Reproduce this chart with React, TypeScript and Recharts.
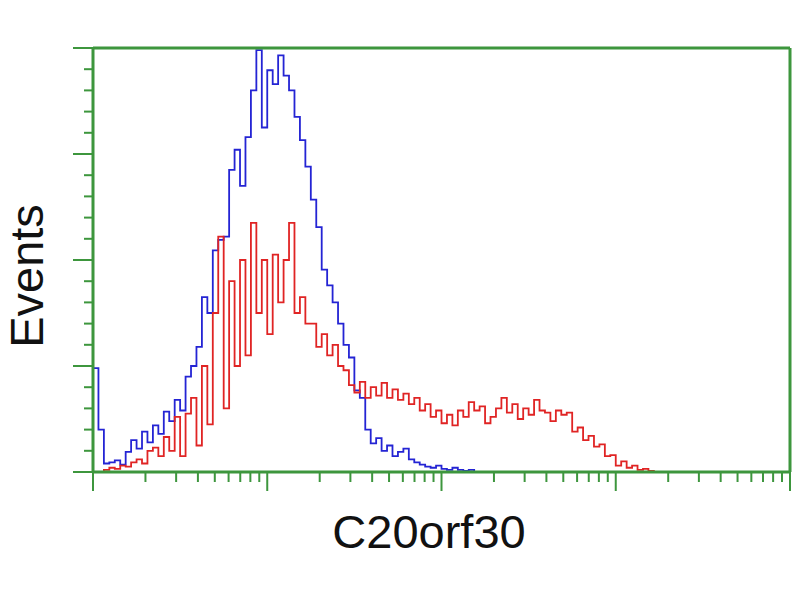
import React from 'react';
import { LineChart, Line, XAxis, YAxis, Label } from 'recharts';

// histogram bins (channel, 256 channels over 4 decades)
const channels = [
  0, 2, 4, 6, 8, 10, 12, 14, 16, 18, 20, 22, 24, 26, 28, 30, 32, 34, 36, 38,
  40, 42, 44, 46, 48, 50, 52, 54, 56, 58, 60, 62, 64, 66, 68, 70, 72, 74, 76, 78,
  80, 82, 84, 86, 88, 90, 92, 94, 96, 98, 100, 102, 104, 106, 108, 110, 112, 114, 116, 118,
  120, 122, 124, 126, 128, 130, 132, 134, 136, 138, 140, 142, 144, 146, 148, 150, 152, 154, 156, 158,
  160, 162, 164, 166, 168, 170, 172, 174, 176, 178, 180, 182, 184, 186, 188, 190, 192, 194, 196, 198,
  200, 202, 204, 206,
];

// isotype control
const controlEvents = [
  98, 40, 8, 9, 11, 7, 19, 30, 22, 38,
  28, 44, 36, 57, 48, 68, 58, 90, 100, 118,
  165, 150, 209, 219, 222, 285, 304, 270, 316, 360,
  398, 325, 379, 366, 393, 374, 360, 335, 313, 288,
  257, 231, 191, 176, 160, 140, 120, 108, 77, 70,
  40, 27, 32, 20, 25, 15, 19, 22, 12, 9,
  7, 5, 4, 6, 3, 2, 4, 2, 1, 2,
  0,
];

// C20orf30 stained
const stainedEvents = [
  0, 0, 2, 4, 3, 6, 5, 9, 12, 8,
  20, 23, 15, 33, 20, 52, 15, 55, 70, 25,
  100, 45, 150, 222, 60, 180, 100, 200, 110, 235,
  150, 200, 130, 205, 160, 200, 235, 150, 165, 140,
  140, 118, 130, 110, 120, 100, 96, 82, 75, 85,
  70, 80, 72, 84, 70, 78, 68, 74, 64, 70,
  58, 64, 52, 58, 46, 54, 44, 58, 52, 66,
  58, 62, 46, 52, 60, 70, 56, 64, 50, 60,
  54, 68, 58, 56, 48, 58, 54, 56, 38, 42,
  30, 34, 24, 26, 15, 16, 6, 10, 4, 6,
  2, 3, 1, 0,
];

const xMajorTicks = [0, 64, 128, 192, 256];
const yMajorTicks = [0, 100, 200, 300, 400];
const yMinorTicks = [20, 40, 60, 80, 120, 140, 160, 180, 220, 240, 260, 280, 320, 340, 360, 380];

const xMinorTicks: number[] = [];
for (let d = 0; d < 4; d++) {
  for (let k = 2; k <= 9; k++) xMinorTicks.push(d * 64 + 64 * Math.log10(k));
}

const data = channels.map((c, i) => ({
  channel: c,
  control: i < controlEvents.length ? controlEvents[i] : null,
  stained: stainedEvents[i],
}));

const GREEN = '#3d963d';

const XTick = (props: any) => {
  const { x, y, payload } = props;
  const major = xMajorTicks.includes(payload.value);
  return <line x1={x} x2={x} y1={y} y2={y + (major ? 19 : 10)} stroke={GREEN} strokeWidth={2} />;
};

const YTick = (props: any) => {
  const { x, y, payload } = props;
  const major = yMajorTicks.includes(payload.value);
  return <line x1={x - (major ? 20 : 9)} x2={x} y1={y} y2={y} stroke={GREEN} strokeWidth={2} />;
};

const font = '"Liberation Sans", Arial, sans-serif';

export default function App() {
  return (
    <div style={{ position: 'absolute', left: 0, top: 0, width: 800, height: 600, background: '#fff' }}>
      <LineChart width={800} height={600} data={data} margin={{ top: 0, right: 0, bottom: 0, left: 0 }}>
        <XAxis
          dataKey="channel"
          type="number"
          domain={[0, 256]}
          ticks={[...xMajorTicks, ...xMinorTicks]}
          interval={0}
          height={128}
          tickSize={0}
          tickMargin={0}
          tickLine={false}
          tick={<XTick />}
          axisLine={{ stroke: GREEN, strokeWidth: 3 }}
        >
          <Label
            content={() => (
              <text x={429} y={548} textAnchor="middle" fontFamily={font} fontSize={47} fill="#111">
                C20orf30
              </text>
            )}
          />
        </XAxis>
        <XAxis
          xAxisId="top"
          orientation="top"
          dataKey="channel"
          type="number"
          domain={[0, 256]}
          height={48}
          tick={false}
          tickLine={false}
          axisLine={{ stroke: GREEN, strokeWidth: 3 }}
        />
        <YAxis
          type="number"
          domain={[0, 400]}
          ticks={[...yMajorTicks, ...yMinorTicks]}
          interval={0}
          width={93}
          tickSize={0}
          tickMargin={0}
          tickLine={false}
          tick={<YTick />}
          axisLine={{ stroke: GREEN, strokeWidth: 3 }}
        >
          <Label
            content={() => (
              <text
                x={43}
                y={276}
                textAnchor="middle"
                fontFamily={font}
                fontSize={47}
                fill="#111"
                transform="rotate(-90 43 276)"
              >
                Events
              </text>
            )}
          />
        </YAxis>
        <YAxis
          yAxisId="right"
          orientation="right"
          domain={[0, 400]}
          width={10}
          tick={false}
          tickLine={false}
          axisLine={{ stroke: GREEN, strokeWidth: 3 }}
        />
        <Line
          dataKey="control"
          type="stepAfter"
          stroke="#2424d4"
          strokeWidth={1.8}
          dot={false}
          isAnimationActive={false}
          connectNulls={false}
        />
        <Line
          dataKey="stained"
          type="stepAfter"
          stroke="#e02424"
          strokeWidth={1.8}
          dot={false}
          isAnimationActive={false}
        />
      </LineChart>
    </div>
  );
}
